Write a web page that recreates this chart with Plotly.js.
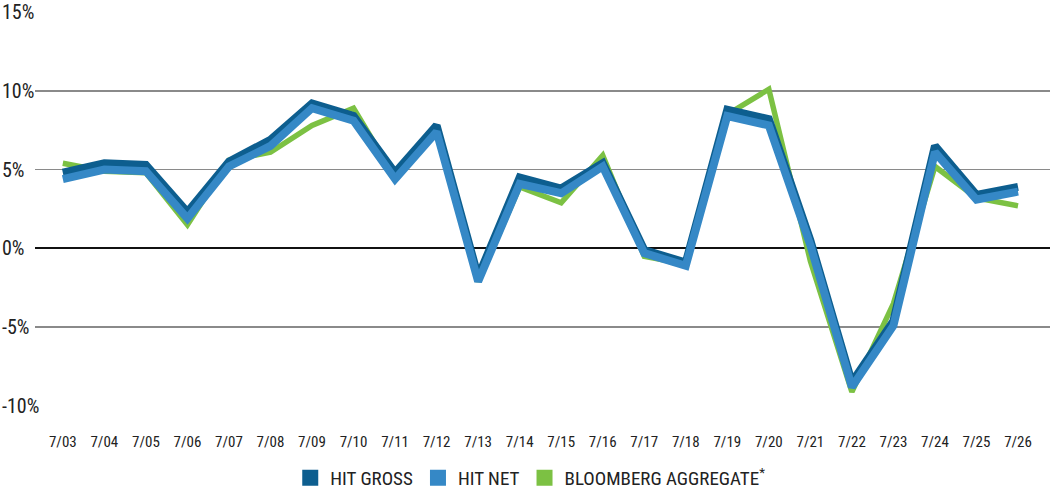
<!DOCTYPE html>
<html>
<head>
<meta charset="utf-8">
<script src="https://cdn.plot.ly/plotly-3.0.1.min.js"></script>
<style>
  html, body { margin: 0; padding: 0; background: #fff; }
  #chart { width: 1050px; height: 495px; }
</style>
</head>
<body>
<div id="chart"></div>
<script>
var dates = ["7/03","7/04","7/05","7/06","7/07","7/08","7/09","7/10","7/11","7/12","7/13","7/14",
             "7/15","7/16","7/17","7/18","7/19","7/20","7/21","7/22","7/23","7/24","7/25","7/26"];

// daily values in %
var hitGross = [4.8, 5.4, 5.3, 2.3, 5.5, 6.9, 9.2, 8.4, 4.8, 7.8, -1.8, 4.5,
                3.8, 5.4, -0.1, -0.9, 8.8, 8.2, 0.5, -8.5, -4.6, 6.5, 3.4, 3.9];
var hitNet   = [4.4, 5.0, 4.9, 1.9, 5.2, 6.5, 8.9, 8.1, 4.4, 7.4, -2.1, 4.1,
                3.5, 5.2, -0.3, -1.1, 8.4, 7.8, 0.2, -8.8, -4.9, 6.1, 3.1, 3.6];
var bloomberg = [5.4, 4.9, 4.8, 1.5, 5.6, 6.1, 7.8, 8.9, 4.5, 7.5, -2.1, 3.9,
                 2.9, 5.9, -0.5, -1.0, 8.5, 10.1, -0.8, -9.1, -3.5, 5.2, 3.2, 2.7];

var yTicks = [-10, -5, 0, 5, 10, 15];

var colGross = "#0d5e8f";
var colNet = "#3588c6";
var colBloom = "#7cc143";

var condensed = '"Roboto Condensed", "Liberation Sans Narrow", "DejaVu Sans Condensed", Roboto, sans-serif';

var idx = dates.map(function(d, i){ return i; });

var traces = [
  { x: idx, y: bloomberg, mode: 'lines', showlegend: false, hoverinfo: 'skip',
    line: { color: colBloom, width: 5.5 } },
  { x: idx, y: hitGross, mode: 'lines', showlegend: false, hoverinfo: 'skip',
    line: { color: colGross, width: 8 } },
  { x: idx, y: hitNet, mode: 'lines', showlegend: false, hoverinfo: 'skip',
    line: { color: colNet, width: 8 } },
  // legend swatches only
  { x: [null], y: [null], mode: 'markers', name: 'HIT GROSS',
    marker: { symbol: 'square', size: 16, color: colGross } },
  { x: [null], y: [null], mode: 'markers', name: 'HIT NET',
    marker: { symbol: 'square', size: 16, color: colNet } },
  { x: [null], y: [null], mode: 'markers', name: 'BLOOMBERG AGGREGATE<sup>*</sup>',
    marker: { symbol: 'square', size: 16, color: colBloom } }
];

// y tick labels are left aligned at the page edge, so put them as annotations
var yLabels = yTicks.map(function(v){
  return {
    xref: 'paper', yref: 'y', x: -35/1015, y: v,
    xanchor: 'left', yanchor: 'middle', showarrow: false,
    text: v + '%',
    font: { family: condensed, size: 20, color: '#222' }
  };
});

var layout = {
  width: 1050,
  height: 495,
  margin: { l: 35, r: 0, t: 12, b: 89, pad: 0 },
  paper_bgcolor: '#fff',
  plot_bgcolor: '#fff',
  showlegend: true,
  legend: {
    orientation: 'h',
    xref: 'container', yref: 'container',
    x: 0.505, xanchor: 'center',
    y: 1 - 478/495, yanchor: 'middle',
    font: { family: condensed, size: 19, color: '#222' },
    itemsizing: 'trace'
  },
  xaxis: {
    range: [-0.67, 23.77],
    tickmode: 'array',
    tickvals: idx,
    ticktext: dates,
    showgrid: false,
    zeroline: false,
    showline: false,
    ticks: 'outside',
    ticklen: 22,
    tickcolor: 'rgba(0,0,0,0)',
    tickfont: { family: condensed, size: 15, color: '#222' },
    fixedrange: true
  },
  yaxis: {
    range: [-10, 15],
    tickmode: 'array',
    tickvals: yTicks,
    showticklabels: false,
    showgrid: true,
    gridcolor: '#8a8a8a',
    gridwidth: 1.5,
    zeroline: true,
    zerolinecolor: '#111',
    zerolinewidth: 2,
    showline: false,
    fixedrange: true
  },
  annotations: yLabels
};

Plotly.newPlot('chart', traces, layout, { displayModeBar: false, staticPlot: true });
</script>
</body>
</html>
